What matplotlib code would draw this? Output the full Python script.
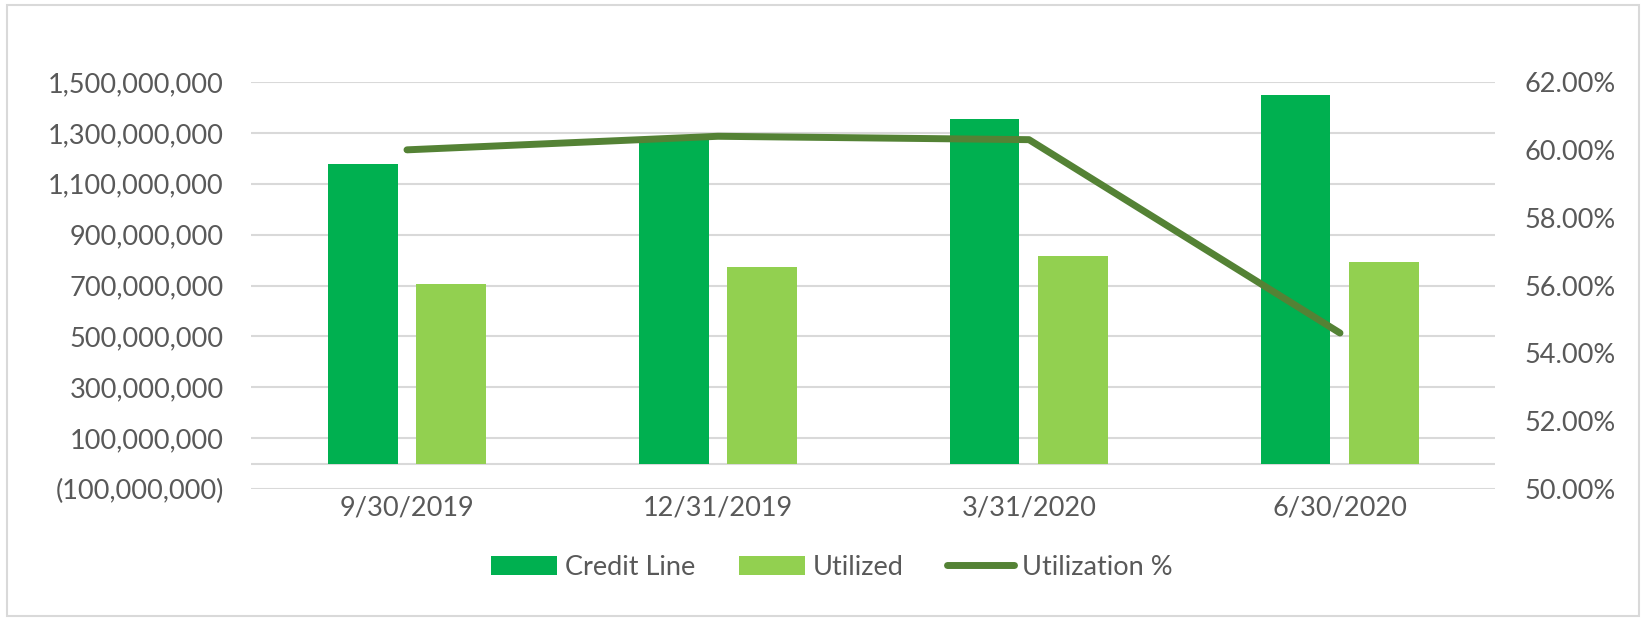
import matplotlib
matplotlib.use("Agg")
import matplotlib.pyplot as plt
import numpy as np
from matplotlib.patches import Rectangle, Patch
from matplotlib.lines import Line2D
from matplotlib.ticker import FuncFormatter

categories = ["9/30/2019", "12/31/2019", "3/31/2020", "6/30/2020"]
credit_line = [1176e6, 1280e6, 1353e6, 1447e6]
utilized = [706e6, 773e6, 816e6, 792e6]
utilization_pct = [60.0, 60.4, 60.3, 54.6]

left_ticks = [-100e6, 100e6, 300e6, 500e6, 700e6, 900e6, 1100e6, 1300e6, 1500e6]
right_ticks = [50, 52, 54, 56, 58, 60, 62]

C_CREDIT = "#00B050"
C_UTIL = "#92D050"
C_LINE = "#548235"
C_GRID = "#D9D9D9"
C_TEXT = "#595959"
FONT = "Lato"
FS = 19.5

plt.rcParams["font.family"] = [FONT, "DejaVu Sans"]

fig = plt.figure(figsize=(16.47, 6.18), dpi=100)
ax = fig.add_axes([0.1527, 0.2087, 0.7553, 0.6586])

x = np.arange(len(categories))
bw = 0.225
off = 0.143
ax.bar(x - off, credit_line, width=bw, color=C_CREDIT, zorder=2)
ax.bar(x + off, utilized, width=bw, color=C_UTIL, zorder=2)

ax.set_xlim(-0.5, len(categories) - 0.5)
ax.set_ylim(left_ticks[0], left_ticks[-1])
ax.set_yticks(left_ticks)

def fmt_left(v, pos):
    if v < 0:
        return "({:,.0f})".format(-v)
    return "{:,.0f}".format(v)

ax.yaxis.set_major_formatter(FuncFormatter(fmt_left))
ax.set_xticks(x)
ax.set_xticklabels(categories)
ax.grid(axis="y", color=C_GRID, linewidth=1.5, zorder=0)
ax.axhline(0, color=C_GRID, linewidth=1.5, zorder=1)
for s in ax.spines.values():
    s.set_visible(False)
ax.tick_params(axis="both", length=0, labelsize=FS, labelcolor=C_TEXT)
ax.tick_params(axis="y", pad=20)
ax.tick_params(axis="x", pad=5)

ax2 = ax.twinx()
ax2.plot(x, utilization_pct, color=C_LINE, linewidth=5,
         solid_capstyle="round", solid_joinstyle="round", zorder=3)
ax2.set_ylim(right_ticks[0], right_ticks[-1])
ax2.set_yticks(right_ticks)
ax2.yaxis.set_major_formatter(FuncFormatter(lambda v, p: "{:.2f}%".format(v)))
for s in ax2.spines.values():
    s.set_visible(False)
ax2.tick_params(axis="y", length=0, labelsize=FS, labelcolor=C_TEXT, pad=21)

handles = [
    Patch(facecolor=C_CREDIT, edgecolor="none"),
    Patch(facecolor=C_UTIL, edgecolor="none"),
    Line2D([0], [0], color=C_LINE, linewidth=5, solid_capstyle="round"),
]
labels = ["Credit Line", "Utilized", "Utilization %"]
leg = fig.legend(handles, labels, loc="center", bbox_to_anchor=(0.505, 0.0825),
                 ncol=3, frameon=False, fontsize=FS, handlelength=2.44,
                 handleheight=0.7, handletextpad=0.3, columnspacing=1.6,
                 labelcolor=C_TEXT)

fig.patches.append(Rectangle((0.0045, 0.004), 0.9905, 0.988,
                             transform=fig.transFigure, fill=False,
                             edgecolor=C_GRID, linewidth=1.5))

fig.savefig("out.png", dpi=100, facecolor="white")
